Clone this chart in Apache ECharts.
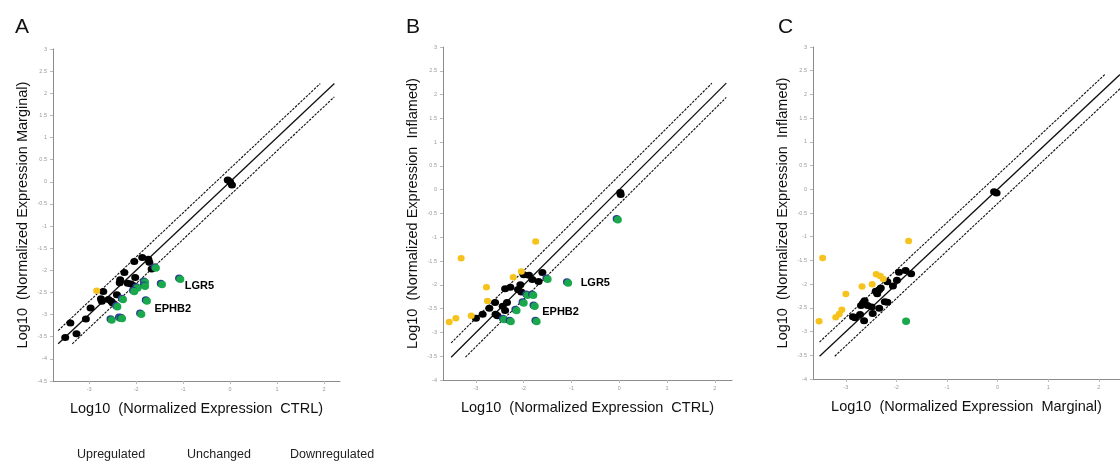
<!DOCTYPE html>
<html>
<head>
<meta charset="utf-8">
<script src="https://cdn.jsdelivr.net/npm/echarts@6.0.0/dist/echarts.min.js"></script>
<style>
html, body { margin: 0; padding: 0; background: #fff; }
#chartDom { width: 1120px; height: 463px; }
</style>
</head>
<body>
<div id="chartDom"></div>
<script>
// 三个散点面板：A (CTRL vs Marginal), B (CTRL vs Inflamed), C (Marginal vs Inflamed)
var myChart = echarts.init(document.getElementById('chartDom'));

// ---- panel A ----
const upA = [[-2.84, -2.46]];
const sameA = [
    [-0.05, 0.04], [0.0, 0.0], [0.04, -0.07],
    [-1.87, -1.71], [-2.04, -1.80], [-1.74, -1.75], [-1.72, -1.82], [-1.67, -1.97],
    [-2.25, -2.05], [-2.02, -2.16], [-2.34, -2.21], [-2.35, -2.28],
    [-2.18, -2.29], [-2.11, -2.31], [-2.05, -2.35],
    [-2.70, -2.48], [-2.41, -2.55], [-2.75, -2.64], [-2.73, -2.70],
    [-2.59, -2.66], [-2.53, -2.70], [-2.50, -2.74],
    [-2.97, -2.85], [-3.07, -3.10], [-3.40, -3.19], [-3.27, -3.43], [-3.51, -3.52]
];
const downA = [
    [-1.58, -1.95], [-1.06, -2.20], [-1.45, -2.32], [-1.81, -2.27], [-1.81, -2.36],
    [-1.97, -2.40], [-2.04, -2.48], [-1.77, -2.69], [-2.28, -2.66], [-2.40, -2.82],
    [-1.89, -2.99], [-2.52, -3.12], [-2.34, -3.08], [-2.30, -3.09]
];
const genesA = ['LGR5', 'EPHB2'];
const genePtsA = [[-1.06, -2.20], [-1.77, -2.69]];

// ---- panel B ----
const upB = [
    [-1.75, -1.09], [-3.31, -1.44], [-2.05, -1.72], [-2.22, -1.84], [-2.78, -2.05],
    [-2.76, -2.34], [-3.10, -2.65], [-3.42, -2.70], [-3.56, -2.78]
];
const sameB = [
    [0.02, -0.06], [0.03, -0.10],
    [-1.61, -1.74], [-2.00, -1.79], [-1.89, -1.80], [-1.82, -1.89], [-1.69, -1.93],
    [-2.07, -2.00], [-2.39, -2.08], [-2.28, -2.05], [-2.12, -2.10], [-2.05, -2.15],
    [-2.60, -2.37], [-2.35, -2.37], [-2.44, -2.45], [-2.39, -2.54], [-2.72, -2.49],
    [-2.59, -2.62], [-2.55, -2.65], [-2.86, -2.62], [-3.00, -2.70]
];
const downB = [
    [-0.03, -0.63], [-1.07, -1.96], [-1.50, -1.88], [-1.92, -2.22], [-1.80, -2.22],
    [-2.00, -2.38], [-1.77, -2.45], [-2.15, -2.54], [-2.41, -2.73], [-2.27, -2.77],
    [-1.73, -2.77]
];
const genesB = ['LGR5', 'EPHB2'];
const genePtsB = [[-1.07, -1.96], [-1.77, -2.45]];

// ---- panel C ----
const upC = [
    [-1.76, -1.09], [-3.46, -1.45], [-2.40, -1.79], [-2.32, -1.83], [-2.26, -1.89],
    [-2.48, -2.00], [-2.68, -2.05], [-3.00, -2.21], [-3.08, -2.54], [-3.13, -2.63],
    [-3.20, -2.70], [-3.53, -2.78]
];
const sameC = [
    [-0.07, -0.05], [-0.02, -0.08],
    [-1.82, -1.71], [-1.95, -1.75], [-1.71, -1.78], [-1.99, -1.92], [-2.18, -1.95],
    [-2.07, -2.04], [-2.31, -2.08], [-2.34, -2.12], [-2.41, -2.15], [-2.38, -2.20],
    [-2.63, -2.35], [-2.66, -2.40], [-2.70, -2.45], [-2.57, -2.45], [-2.49, -2.48],
    [-2.23, -2.37], [-2.18, -2.38], [-2.34, -2.51], [-2.47, -2.62], [-2.72, -2.64],
    [-2.86, -2.69], [-2.82, -2.71], [-2.64, -2.77]
];
const downC = [[-1.81, -2.78]];

// 刻度
const xTicks = [-3, -2, -1, 0, 1, 2];
const foldLine = 0.3;          // log10(2)
const diagA = [-3.66, 2.22];
const diagB = [-3.52, 2.24];
const diagC = [-3.52, 2.42];

const UP = '#f6c21c', SAME = '#000000', DOWN = '#19a84b';
const FONT = 'Liberation Sans, Arial, sans-serif';

const panels = [
    { grid: { left: 53, top: 49, width: 287, height: 332 }, xMin: -3.77, xMax: 2.34, yMin: -4.5,
      xName: 'Log10  (Normalized Expression  CTRL)', yName: 'Log10  (Normalized Expression Marginal)',
      up: upA, same: sameA, down: downA, diag: diagA, genes: genesA, genePts: genePtsA,
      geneOffsets: [[4, 7], [7, 8]], blueEdge: true },
    { grid: { left: 443, top: 47, width: 289, height: 333 }, xMin: -3.69, xMax: 2.36, yMin: -4,
      xName: 'Log10  (Normalized Expression  CTRL)', yName: 'Log10  (Normalized Expression  Inflamed)',
      up: upB, same: sameB, down: downB, diag: diagB, genes: genesB, genePts: genePtsB,
      geneOffsets: [[12, 0], [7, 6]], blueEdge: true },
    { grid: { left: 813, top: 47, width: 307, height: 332 }, xMin: -3.65, xMax: 2.42, yMin: -4,
      xName: 'Log10  (Normalized Expression  Marginal)', yName: 'Log10  (Normalized Expression  Inflamed)',
      up: upC, same: sameC, down: downC, diag: diagC, genes: [], genePts: [],
      geneOffsets: [], blueEdge: false }
];

function diagLines(range) {
    var lo = range[0], hi = range[1];
    return {
        solid: [[lo, lo], [hi, hi]],
        upper: [[lo, lo + foldLine], [hi - foldLine, hi]],
        lower: [[lo + foldLine, lo], [hi, hi - foldLine]]
    };
}

var grids = [], xAxes = [], yAxes = [], series = [];

panels.forEach(function (p, i) {
    grids.push(p.grid);
    xAxes.push({
        gridIndex: i, type: 'value', min: p.xMin, max: p.xMax,
        splitLine: { show: false },
        axisLine: { onZero: false, lineStyle: { color: '#8c8c8c', width: 1 } },
        axisTick: { customValues: xTicks, length: 3, lineStyle: { color: '#bbb' } },
        axisLabel: { customValues: xTicks, fontSize: 5.5, color: '#999', margin: 5, fontFamily: FONT },
        name: p.xName, nameLocation: 'middle', nameGap: 20,
        nameTextStyle: { fontSize: 14.5, color: '#111', fontFamily: FONT }
    });
    yAxes.push({
        gridIndex: i, type: 'value', min: p.yMin, max: 3, interval: 0.5,
        splitLine: { show: false },
        axisLine: { onZero: false, lineStyle: { color: '#8c8c8c', width: 1 } },
        axisTick: { length: 3, lineStyle: { color: '#bbb' } },
        axisLabel: { fontSize: 5.5, color: '#999', margin: 6, fontFamily: FONT },
        name: p.yName, nameLocation: 'middle', nameGap: 23,
        nameTextStyle: { fontSize: 14.5, color: '#111', fontFamily: FONT }
    });

    var d = diagLines(p.diag);
    [['solid', d.solid, 'solid', 1.3], ['upper', d.upper, [2.5, 1.2], 1.1], ['lower', d.lower, [2.5, 1.2], 1.1]]
        .forEach(function (l) {
            series.push({
                type: 'line', xAxisIndex: i, yAxisIndex: i, data: l[1], symbol: 'none', silent: true, z: 1,
                lineStyle: { color: '#111', width: l[3], type: l[2] }
            });
        });

    series.push({
        name: 'Unchanged', type: 'scatter', xAxisIndex: i, yAxisIndex: i, data: p.same,
        symbolSize: [8, 7], itemStyle: { color: SAME, opacity: 1 }, z: 3
    });
    series.push({
        name: 'Upregulated', type: 'scatter', xAxisIndex: i, yAxisIndex: i, data: p.up,
        symbolSize: [7, 6.5], itemStyle: { color: UP, opacity: 1 }, z: 3
    });
    series.push({
        name: 'Downregulated', type: 'scatter', xAxisIndex: i, yAxisIndex: i, data: p.down,
        symbolSize: [8, 7.5],
        itemStyle: p.blueEdge
            ? { color: DOWN, opacity: 1, shadowColor: '#2b3f8f', shadowOffsetX: -1.2, shadowOffsetY: -1, shadowBlur: 0 }
            : { color: DOWN, opacity: 1 },
        z: 3
    });
    if (p.genes.length) {
        series.push({
            type: 'scatter', xAxisIndex: i, yAxisIndex: i, silent: true, z: 4,
            symbolSize: 1, itemStyle: { color: '#fff', opacity: 0 },
            data: p.genePts.map(function (pt, k) {
                return { value: pt, name: p.genes[k], label: { offset: p.geneOffsets[k] } };
            }),
            label: {
                show: true, position: 'right', distance: 0, formatter: '{b}',
                fontSize: 11, fontWeight: 'bold', color: '#000', opacity: 1, fontFamily: FONT
            }
        });
    }
});

function legendItem(name, left) {
    return {
        data: [name], left: left, top: 443, itemWidth: 0, itemHeight: 14,
        selectedMode: false,
        textStyle: { fontSize: 12.5, color: '#222', fontFamily: FONT }
    };
}

var option = {
    backgroundColor: '#fff',
    animation: false,
    title: [
        { text: 'A', left: 10, top: 12, textStyle: { fontSize: 21, fontWeight: 'normal', color: '#111', fontFamily: FONT } },
        { text: 'B', left: 401, top: 12, textStyle: { fontSize: 21, fontWeight: 'normal', color: '#111', fontFamily: FONT } },
        { text: 'C', left: 773, top: 12, textStyle: { fontSize: 21, fontWeight: 'normal', color: '#111', fontFamily: FONT } }
    ],
    legend: [legendItem('Upregulated', 67), legendItem('Unchanged', 177), legendItem('Downregulated', 280)],
    grid: grids,
    xAxis: xAxes,
    yAxis: yAxes,
    series: series
};

myChart.setOption(option);
</script>
</body>
</html>
